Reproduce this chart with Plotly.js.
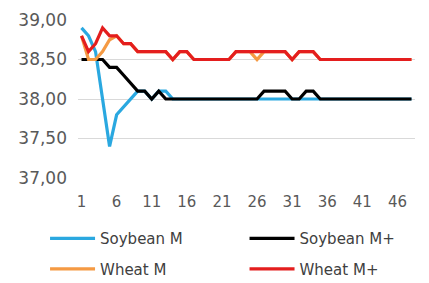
<!DOCTYPE html>
<html>
<head>
<meta charset="utf-8">
<script src="https://cdn.plot.ly/plotly-3.0.1.min.js"></script>
<style>html,body{margin:0;padding:0;background:#fff;}#chart{width:429px;height:283px;}</style>
</head>
<body>
<div id="chart"></div>
<script>
const days = Array.from({length: 48}, (_, i) => i + 1);
const tickVals = [1, 6, 11, 16, 21, 26, 31, 36, 41, 46];
const yTicks = [37.0, 37.5, 38.0, 38.5, 39.0];

const seriesNames = ["Soybean M", "Soybean M+", "Wheat M", "Wheat M+"];

const soybeanM = [38.9, 38.8, 38.6, 38.0, 37.4, 37.8, 37.9, 38.0, 38.1, 38.1,
  38.0, 38.1, 38.1, 38.0, 38.0, 38.0, 38.0, 38.0, 38.0, 38.0,
  38.0, 38.0, 38.0, 38.0, 38.0, 38.0, 38.0, 38.0, 38.0, 38.0,
  38.0, 38.0, 38.0, 38.0, 38.0, 38.0, 38.0, 38.0, 38.0, 38.0,
  38.0, 38.0, 38.0, 38.0, 38.0, 38.0, 38.0, 38.0];

const soybeanMPlus = [38.5, 38.5, 38.5, 38.5, 38.4, 38.4, 38.3, 38.2, 38.1, 38.1,
  38.0, 38.1, 38.0, 38.0, 38.0, 38.0, 38.0, 38.0, 38.0, 38.0,
  38.0, 38.0, 38.0, 38.0, 38.0, 38.0, 38.1, 38.1, 38.1, 38.1,
  38.0, 38.0, 38.1, 38.1, 38.0, 38.0, 38.0, 38.0, 38.0, 38.0,
  38.0, 38.0, 38.0, 38.0, 38.0, 38.0, 38.0, 38.0];

const wheatM = [38.8, 38.5, 38.5, 38.6, 38.75, 38.8, 38.7, 38.7, 38.6, 38.6,
  38.6, 38.6, 38.6, 38.5, 38.6, 38.6, 38.5, 38.5, 38.5, 38.5,
  38.5, 38.5, 38.6, 38.6, 38.6, 38.5, 38.6, 38.6, 38.6, 38.6,
  38.5, 38.6, 38.6, 38.6, 38.5, 38.5, 38.5, 38.5, 38.5, 38.5,
  38.5, 38.5, 38.5, 38.5, 38.5, 38.5, 38.5, 38.5];

const wheatMPlus = [38.8, 38.6, 38.7, 38.9, 38.8, 38.8, 38.7, 38.7, 38.6, 38.6,
  38.6, 38.6, 38.6, 38.5, 38.6, 38.6, 38.5, 38.5, 38.5, 38.5,
  38.5, 38.5, 38.6, 38.6, 38.6, 38.6, 38.6, 38.6, 38.6, 38.6,
  38.5, 38.6, 38.6, 38.6, 38.5, 38.5, 38.5, 38.5, 38.5, 38.5,
  38.5, 38.5, 38.5, 38.5, 38.5, 38.5, 38.5, 38.5];

const colors = ["#2AA8E0", "#000000", "#F59A43", "#E41E1E"];
const values = [soybeanM, soybeanMPlus, wheatM, wheatMPlus];
const legendIds = ["legend", "legend2", "legend", "legend2"];

const traces = values.map((v, k) => ({
  x: days, y: v, name: seriesNames[k], type: "scatter", mode: "lines",
  line: {color: colors[k], width: 3.2},
  legend: legendIds[k], legendgroup: "g" + k
}));

const legendStyle = {
  font: {family: "DejaVu Sans", size: 15, color: "#404040"},
  bgcolor: "rgba(0,0,0,0)", orientation: "v", tracegroupgap: 8,
  xanchor: "left", yanchor: "top", yref: "container", xref: "container",
  itemwidth: 45
};

const layout = {
  width: 429, height: 283,
  margin: {l: 78, r: 14, t: 20, b: 105, autoexpand: false},
  paper_bgcolor: "#ffffff", plot_bgcolor: "#ffffff",
  separators: ", ",
  showlegend: true,
  xaxis: {
    range: [0.5, 48.5], tickmode: "array", tickvals: tickVals,
    showgrid: false, zeroline: false, showline: false, ticks: "",
    ticklabelstandoff: 13, automargin: false,
    tickfont: {family: "DejaVu Sans", size: 15, color: "#595959"}
  },
  yaxis: {
    range: [37, 39], tickmode: "array", tickvals: yTicks, tickformat: ".2f",
    showgrid: true, gridcolor: "#D9D9D9", gridwidth: 1, zeroline: false,
    showline: false, ticks: "", ticklabelstandoff: 10, automargin: false,
    tickfont: {family: "DejaVu Sans", size: 17, color: "#595959"}
  },
  legend: Object.assign({}, legendStyle, {x: 0.105, y: 0.215}),
  legend2: Object.assign({}, legendStyle, {x: 0.57, y: 0.215})
};

Plotly.newPlot("chart", traces, layout, {displayModeBar: false, staticPlot: true});
</script>
</body>
</html>
